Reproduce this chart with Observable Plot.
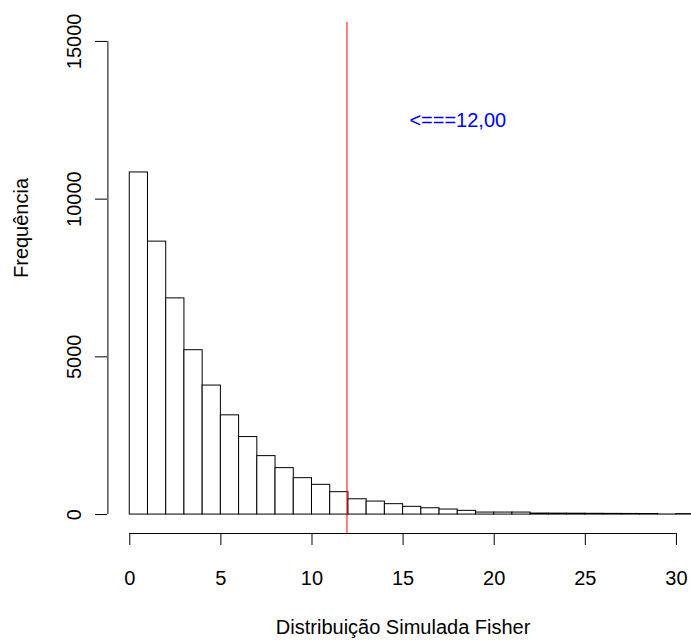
<!DOCTYPE html>
<html>
<head>
<meta charset="utf-8">
<script src="https://cdn.jsdelivr.net/npm/d3@7"></script>
<script src="https://cdn.jsdelivr.net/npm/@observablehq/plot@0.6"></script>
<style>
  body { margin: 0; background: #fff; }
  #chart svg { display: block; }
</style>
</head>
<body>
<div id="chart"></div>
<script>
// ---- data (bin width 1) ----
const binStarts = [0,1,2,3,4,5,6,7,8,9,10,11,12,13,14,15,16,17,18,19,20,21,22,23,24,25,26,27,28,29,30];
const counts    = [10846,8653,6854,5211,4090,3146,2457,1853,1472,1154,943,710,485,413,330,245,200,160,118,64,64,64,32,30,28,25,22,20,18,3,15];
const xTicks = [0,5,10,15,20,25,30];
const yTicks = [0,5000,10000,15000];
const criticalValue = 11.92;
const annotationText = "<===12,00";
const annotationX = 18;
const annotationY = 12500;
const xTitle = "Distribuição Simulada Fisher";
const yTitle = "Frequência";

const xLim = [0, 30];
const yLim = [0, 15000];

const bins = binStarts.map((b, i) => ({x0: b, x1: b + 1, count: counts[i]}));
const xPad = 0.04 * (xLim[1] - xLim[0]);
const yPad = 0.04 * (yLim[1] - yLim[0]);
const font = "'Liberation Sans', Arial, Helvetica, sans-serif";

const chart = Plot.plot({
  width: 691,
  height: 640,
  marginLeft: 107,
  marginBottom: 107,
  marginTop: 22,
  marginRight: 0,
  style: {fontFamily: font, fontSize: "20px", background: "white", color: "black"},
  x: {domain: [xLim[0] - xPad, xLim[1] + xPad], range: [107.4, 697.8]},
  y: {domain: [yLim[0] - yPad, yLim[1] + yPad], range: [533, 22]},
  marks: [
    Plot.rectY(bins, {x1: "x0", x2: "x1", y: "count", fill: "white", stroke: "black", strokeWidth: 1}),
    Plot.ruleY([yLim[0] - yPad], {x1: xLim[0], x2: xLim[1], stroke: "black", strokeWidth: 1}),
    Plot.axisX({anchor: "bottom", ticks: xTicks, tickSize: 12, tickPadding: 25, tickFormat: d3.format("d"), label: null, fontSize: 20}),
    Plot.ruleX([xLim[0] - xPad], {y1: yLim[0], y2: yLim[1], stroke: "black", strokeWidth: 1}),
    Plot.axisY({anchor: "left", ticks: yTicks, tickSize: 12, tickRotate: -90, tickPadding: 15, tickFormat: d3.format("d"), label: null, fontSize: 20}),
    Plot.ruleX([criticalValue], {y1: yLim[0] - yPad, y2: yLim[1] + yPad, stroke: "#ff0000", strokeWidth: 1}),
    Plot.text([annotationText], {x: annotationX, y: annotationY, fill: "#0000ff", fontSize: 20, textAnchor: "middle"}),
    Plot.text([xTitle], {x: (xLim[0] + xLim[1]) / 2, frameAnchor: "bottom", dy: 100, fontSize: 20}),
    Plot.text([yTitle], {y: (yLim[0] + yLim[1]) / 2, frameAnchor: "left", dx: -86, rotate: -90, fontSize: 20})
  ]
});
document.getElementById("chart").appendChild(chart);
</script>
</body>
</html>
